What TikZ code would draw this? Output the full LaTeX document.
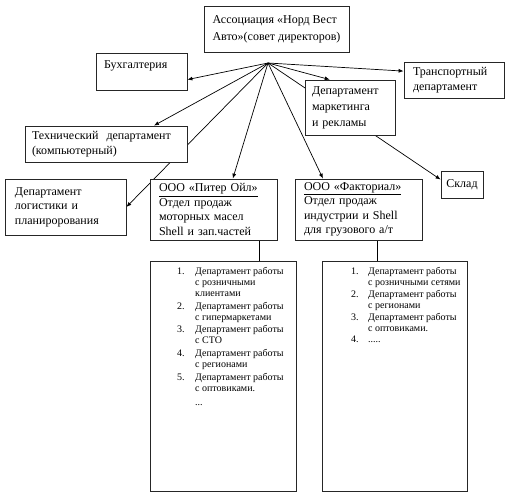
\documentclass[tikz,border=0pt]{standalone}
\usepackage{fontspec}
\setmainfont{Liberation Serif}
\usetikzlibrary{arrows.meta,backgrounds}
\begin{document}
\begin{tikzpicture}[x=1pt,y=-1pt,
  box/.style={draw=black!85, line width=0.8pt, fill=white, align=left, inner xsep=2pt,
    font=\fontsize{12}{15}\selectfont},
  padded/.style 2 args={inner xsep=#1, text width=#2},
  listbox/.style={draw=black!85, line width=0.8pt, fill=white},
  listtxt/.style={inner sep=0pt, font=\fontsize{10}{11}\selectfont},
  arr/.style={line width=0.7pt, -{Latex[length=5pt,width=4pt]}},
  link/.style={line width=0.7pt}]
\useasboundingbox (0,0) rectangle (509,500);

\node[box, minimum width=145pt, minimum height=46pt,
  font=\fontsize{12}{17}\selectfont] (top) at (276.5,29)
  {Ассоциация «Норд Вест\\Авто»(совет директоров)};
\node[box, padded={8pt}{75pt}, minimum width=91pt, minimum height=37pt, text depth=13pt] (bux) at (141.5,71.5) {Бухгалтерия};
\node[box, padded={9pt}{82pt}, minimum width=100pt, minimum height=36pt] (trans) at (454,80) {Транспортный\\департамент};
\node[box, padded={7pt}{76pt}, minimum width=90pt, minimum height=55pt,
  font=\fontsize{12}{16}\selectfont] (mkt) at (350,107.5) {Департамент\\маркетинга\\и рекламы};
\node[box, padded={7pt}{148pt}, minimum width=162pt, minimum height=36pt] (tech) at (106,144) {Технический~~департамент\\(компьютерный)};
\node[box, padded={10pt}{101pt}, minimum width=121pt, minimum height=56pt,
  font=\fontsize{12}{14.5}\selectfont] (log) at (65.5,207) {Департамент\\логистики и\\планирорования};
\node[box, padded={9pt}{109pt}, minimum width=127pt, minimum height=61pt,
  font=\fontsize{12}{14.5}\selectfont] (piter) at (213.5,209.5)
  {\underline{ООО «Питер Ойл»}\\Отдел продаж\\моторных масел\\Shell и зап.частей};
\node[box, padded={9pt}{109pt}, minimum width=127pt, minimum height=61pt,
  font=\fontsize{12}{14.5}\selectfont] (fact) at (358.5,209.5)
  {\underline{ООО «Факториал»}\\Отдел продаж\\индустрии и Shell\\для грузового а/т};
\node[box, minimum width=42pt, minimum height=27pt] (sklad) at (462,184.5) {Склад};

\node[listbox, minimum width=146pt, minimum height=230pt] (list1) at (223,376) {};
\node[listbox, minimum width=145pt, minimum height=230pt] (list2) at (394.5,376) {};

\node[listtxt, anchor=north west] (items1) at (177,266.5) {%
  \begin{tabular}{@{}p{18pt}@{}l@{}}
  1. & Департамент работы\\
     & с розничными\\
     & клиентами\\[1.7pt]
  2. & Департамент работы\\
     & с гипермаркетами\\[1.7pt]
  3. & Департамент работы\\
     & с СТО\\[1.7pt]
  4. & Департамент работы\\
     & с регионами\\[1.7pt]
  5. & Департамент работы\\
     & с оптовиками.\\[3pt]
     & ...
  \end{tabular}};
\node[listtxt, anchor=north west] (items2) at (351,266.5) {%
  \begin{tabular}{@{}p{17pt}@{}l@{}}
  1. & Департамент работы\\
     & с розничными сетями\\[0.8pt]
  2. & Департамент работы\\
     & с регионами\\[0.8pt]
  3. & Департамент работы\\
     & с оптовиками.\\[0.8pt]
  4. & .....
  \end{tabular}};

\coordinate (hub) at (268,63);
\begin{scope}[on background layer]
  \draw[arr] (hub) -- (bux.-10);
  \draw[arr] (hub) -- (trans.170);
  \draw[arr] (hub) -- (mkt.126);
  \draw[arr] (hub) -- (tech.21);
  \draw[arr] (hub) -- (log.east);
  \draw[arr] (hub) -- (piter.58);
  \draw[arr] (hub) -- (fact.139);
  \draw[arr] (hub) -- (sklad.167);
  \draw[link] ([xshift=45.5pt]piter.south) -- ([xshift=45.5pt]piter.south |- list1.north);
  \draw[link] ([xshift=18.5pt]fact.south) -- ([xshift=18.5pt]fact.south |- list2.north);
\end{scope}
\end{tikzpicture}
\end{document}
